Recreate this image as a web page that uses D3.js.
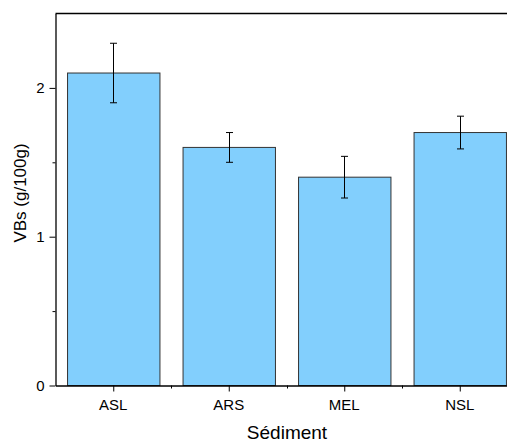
<!DOCTYPE html>
<html><head><meta charset="utf-8">
<script src="https://cdn.jsdelivr.net/npm/d3@7"></script>
<style>body{margin:0;background:#fff}svg{display:block}</style>
</head><body>
<svg id="c" width="507" height="443"></svg>
<script>
const categories = ["ASL", "ARS", "MEL", "NSL"];
const values = [2.1, 1.6, 1.4, 1.7];
const errors = [0.2, 0.1, 0.14, 0.11];
const yTicks = [0, 1, 2];
const yMinorTicks = [0.5, 1.5];
const xLabel = "Sédiment";
const yLabel = "VBs (g/100g)";

const svg = d3.select("#c");
const m = {left: 55.5, top: 13.5, bottom: 385.5};
const bandW = 115.5;
const x = d3.scaleBand().domain(categories).range([m.left, m.left + bandW * categories.length]).paddingInner(0.2).paddingOuter(0.1);
const y = d3.scaleLinear().domain([0, 2.5]).range([m.bottom, m.top]);
const font = "'Liberation Sans', Arial, sans-serif";

// bars
svg.append("g").selectAll("rect").data(categories).join("rect")
  .attr("x", d => x(d) + 0.5).attr("y", (d, i) => y(values[i]))
  .attr("width", x.bandwidth()).attr("height", (d, i) => y(0) - y(values[i]))
  .attr("fill", "#82CFFD").attr("stroke", "#333").attr("stroke-width", 1);

// error bars
const eg = svg.append("g").attr("stroke", "#000").attr("stroke-width", 1);
categories.forEach((c, i) => {
  const cx = Math.round(x(c) + x.bandwidth() / 2) + 0.5;
  eg.append("line").attr("x1", cx).attr("x2", cx).attr("y1", y(values[i] + errors[i])).attr("y2", y(values[i] - errors[i]));
  [values[i] + errors[i], values[i] - errors[i]].forEach(v => {
    eg.append("line").attr("x1", cx - 3.5).attr("x2", cx + 3.5).attr("y1", y(v)).attr("y2", y(v));
  });
});

// top frame line
svg.append("line").attr("x1", m.left).attr("x2", 507).attr("y1", m.top).attr("y2", m.top).attr("stroke", "#000").attr("stroke-width", 1.3);

// y axis
svg.append("g").attr("transform", `translate(${m.left},0)`)
  .call(d3.axisLeft(y).tickValues(yTicks).tickFormat(d3.format("d")).tickSize(6).tickPadding(5).tickSizeOuter(0));
svg.append("g").attr("transform", `translate(${m.left},0)`)
  .call(d3.axisLeft(y).tickValues(yMinorTicks).tickFormat("").tickSize(3).tickSizeOuter(0))
  .select(".domain").remove();

// x axis
const xa = svg.append("g").attr("transform", `translate(0,${m.bottom})`)
  .call(d3.axisBottom(x).tickSize(6).tickPadding(8).tickSizeOuter(0));
xa.selectAll(".tick line").attr("transform", "translate(0.5,0)");
const minor = categories.slice(1).map(c => x(c) - x.step() * x.paddingInner() / 2);
svg.append("g").selectAll("line").data(minor).join("line")
  .attr("x1", d => Math.round(d) + 0.5).attr("x2", d => Math.round(d) + 0.5)
  .attr("y1", m.bottom).attr("y2", m.bottom + 3).attr("stroke", "#000");

svg.selectAll(".domain").attr("stroke", "#000").attr("stroke-width", 1.3);
svg.selectAll(".tick text").attr("font-family", font).attr("font-size", 15).attr("fill", "#000");

svg.append("text").attr("x", 287).attr("y", 439).attr("text-anchor", "middle")
  .attr("font-family", font).attr("font-size", 19).text(xLabel);
svg.append("text").attr("transform", `translate(26,193) rotate(-90)`)
  .attr("text-anchor", "middle").attr("font-family", font).attr("font-size", 17).text(yLabel);
</script>
</body></html>
